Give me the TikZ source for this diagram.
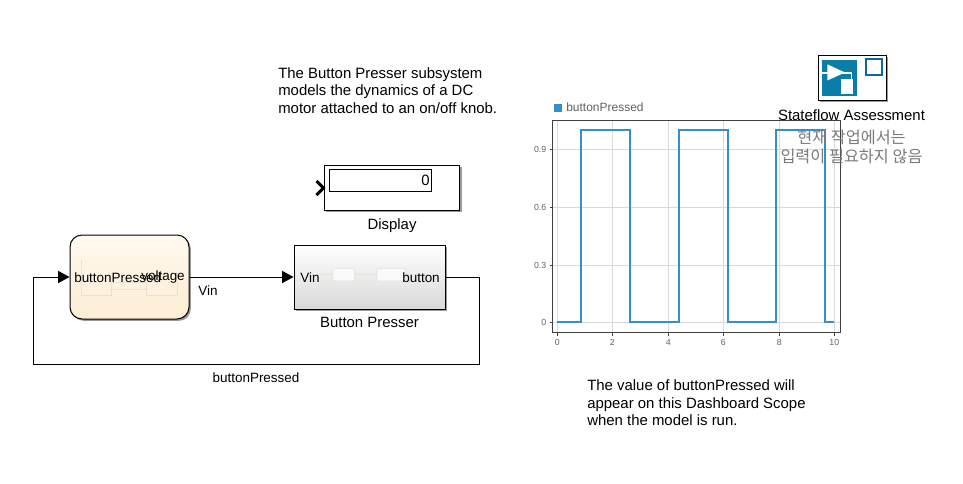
\documentclass[tikz,border=0pt]{standalone}
\usepackage{fontspec}
\setmainfont{Liberation Sans}
\newfontfamily\krfont{Noto Sans CJK KR}
\usetikzlibrary{arrows.meta, positioning, shadows}
\definecolor{ChartTop}{HTML}{FFF9EF}
\definecolor{ChartBottom}{HTML}{FDEDD3}
\definecolor{ScopeBlue}{HTML}{348FCD}
\definecolor{ScopeGrid}{HTML}{D9D9D9}
\definecolor{ScopeText}{HTML}{616161}
\definecolor{ScopeAxis}{HTML}{404040}
\definecolor{IconBlue}{HTML}{0A7EA8}
\definecolor{IconEdge}{HTML}{0B6A9C}
\definecolor{FaintLine}{HTML}{E6E2DA}
\def\px{0.75pt}
\tikzset{
  blockshadow/.style={drop shadow={shadow xshift=1.4pt, shadow yshift=-1.4pt, fill=black, opacity=0.4}},
  block/.style={draw=black, line width=0.75pt, inner sep=0pt, blockshadow},
  wire/.style={draw=black, line width=0.75pt},
  arrowwire/.style={wire, -{Triangle[length=8.5pt, width=9pt]}},
  label/.style={font=\fontsize{11.2}{13}\selectfont, inner sep=0pt},
  porttext/.style={font=\fontsize{10.1}{13}\selectfont, inner sep=0pt},
  note/.style={font=\fontsize{11.2}{13.2}\selectfont, inner sep=0pt, align=left, anchor=west},
  ticktext/.style={font=\fontsize{6.6}{8}\selectfont, text=ScopeText, inner sep=0pt},
  krtext/.style={font=\krfont\fontsize{12.2}{14}\selectfont, text=black!52, inner sep=0pt},
  faint/.style={draw=FaintLine, line width=0.5pt},
}

\begin{document}
\begin{tikzpicture}[x=0.75pt, y=-0.75pt]
  \useasboundingbox (0,0) rectangle (963,483);

  % scope
  \fill[ScopeBlue] (553.5,104) rectangle (562,112);
  \node[ticktext, font=\fontsize{9}{11}\selectfont, anchor=west] (legend) at (566,107.5) {buttonPressed};
  \foreach \xp in {557.3,612.3,668.3,723.3,779.3,834.3}
    \draw[ScopeGrid, line width=0.6pt] (\xp,120) -- (\xp,332);
  \foreach \yp in {149.3,207.3,265,322}
    \draw[ScopeGrid, line width=0.6pt] (552.5,\yp) -- (840.3,\yp);
  \draw[ScopeAxis, line width=0.75pt] (552.7,120.3) rectangle (840.3,332.3);
  \foreach \xp/\xt in {557.3/0,612.3/2,668.3/4,723.3/6,779.3/8,834.3/10} {
    \draw[ScopeAxis, line width=0.5pt] (\xp,332.3) -- (\xp,335.5);
    \node[ticktext] (xlab\xt) at (\xp,342.5) {\xt};
  }
  \foreach \yp/\yt in {149.3/0.9,207.3/0.6,265/0.3,322/0} {
    \draw[ScopeAxis, line width=0.5pt] (549.5,\yp) -- (552.7,\yp);
    \node[ticktext, anchor=east] (ylab\yt) at (546.5,\yp) {\yt};
  }
  \draw[ScopeBlue, line width=1.4pt] (557.3,322) -- (580.8,322) -- (580.8,130) -- (630,130) -- (630,322)
    -- (678.7,322) -- (678.7,130) -- (728,130) -- (728,322) -- (776,322) -- (776,130) -- (825,130)
    -- (825,322) -- (834.3,322);

  % text notes
  \node[note] (motornote) at (278,90.5) {The Button Presser subsystem\\models the dynamics of a DC\\motor attached to an on/off knob.};
  \node[note] (scopenote) at (587,403) {The value of buttonPressed will\\appear on this Dashboard Scope\\when the model is run.};

  % assessment block
  \node[block, fill=white, minimum width=68*\px, minimum height=45*\px] (assess) at (852,77.5) {};
  \fill[IconBlue] (822.3,60) rectangle (856.5,95.7);
  \draw[white, line width=0.9pt] (822.3,73) -- (851.7,73) -- (851.7,80);
  \fill[white] (827.3,64.3) -- (845,72.5) -- (827.3,80.5) -- cycle;
  \fill[white] (840.7,79.3) rectangle (853,94);
  \draw[IconEdge, line width=1.5pt] (866,59) rectangle (882,75);
  \node[label] (assesslabel) at (851.5,115) {Stateflow Assessment};
  \node[krtext] (assessline1) at (851.5,137) {현재 작업에서는};
  \node[krtext] (assessline2) at (851.5,156) {입력이 필요하지 않음};

  % display
  \node[block, fill=white, minimum width=135.5*\px, minimum height=45*\px] (display) at (392.2,187.5) {};
  \draw[black, line width=0.75pt] (329.5,169.5) rectangle (431,191.5);
  \node[porttext, anchor=east, font=\fontsize{11.2}{13}\selectfont] (dispval) at (430,180.5) {0};
  \draw[black, line width=2.3pt] (316.5,181) -- (323.5,188) -- (316.5,195);
  \node[label] (displaylabel) at (392,225.5) {Display};

  % controller and plant
  \node[block, rounded corners=9pt, top color=ChartTop, bottom color=ChartBottom, minimum width=119*\px, minimum height=84*\px] (chart) at (129.5,277) {};
  \draw[faint] (81.7,260) -- (81.7,295) -- (111,295) -- (111,282.7) -- (147,282.7);
  \draw[faint] (111,289) -- (147,289);
  \draw[faint] (146.7,282) -- (146.7,295) -- (177,295) -- (177,282);
  \node[porttext, anchor=west] (chartin) at (74,277.5) {buttonPressed};
  \node[porttext, anchor=east] (chartout) at (185,277.5) {voltage};

  \node[block, top color=white, middle color=black!2, bottom color=black!15, minimum width=151*\px, minimum height=64*\px] (presser) at (369.5,277) {};
  \draw[faint] (312,274.5) -- (333,274.5);
  \draw[faint] (355,274.5) -- (377,274.5);
  \draw[faint] (406,274.5) -- (420,274.5);
  \draw[faint, rounded corners=1pt, fill=black!2] (332.7,268.3) rectangle (354.7,281);
  \draw[faint, rounded corners=1pt, fill=black!2] (376.7,268.3) rectangle (405.7,281);
  \node[porttext, anchor=west] (presserin) at (300,278) {Vin};
  \node[porttext, anchor=east] (presserout) at (440,278) {button};
  \node[label] (presserlabel) at (369.5,322.5) {Button Presser};

  % wires
  \coordinate (fbright) at (479,277);
  \coordinate (fbdown) at (479,364);
  \coordinate (fbleft) at (33,364);
  \coordinate (fbup) at (33,277);
  \draw[arrowwire] (chart.east) -- (presser.west);
  \draw[arrowwire] (presser.east) -- (fbright) -- (fbdown) -- (fbleft) -- (fbup) -- (chart.west);
  \node[porttext] (vinlabel) at (208,290.5) {Vin};
  \node[porttext] (fblabel) at (256,377.5) {buttonPressed};
\end{tikzpicture}
\end{document}
